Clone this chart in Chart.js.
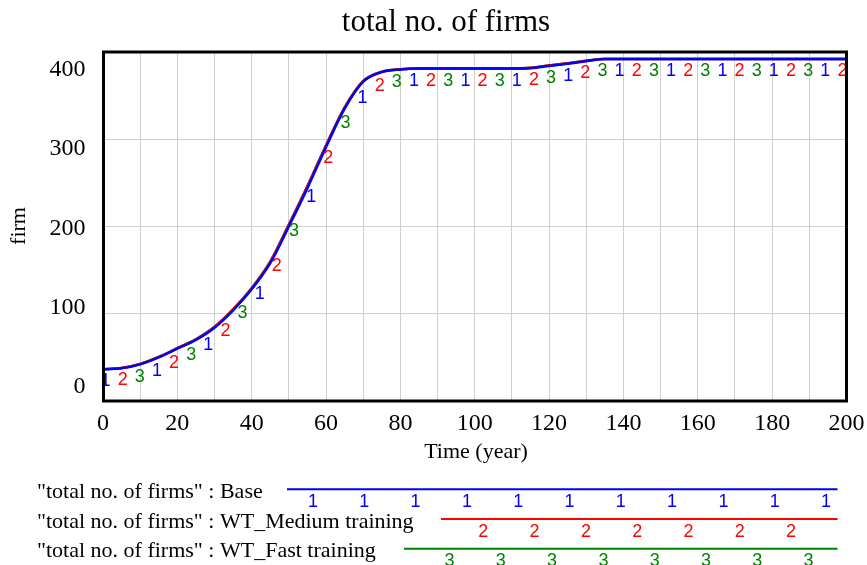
<!DOCTYPE html>
<html><head><meta charset="utf-8">
<script src="https://cdn.jsdelivr.net/npm/chart.js@4.4.1/dist/chart.umd.min.js"></script>
<style>html,body{margin:0;padding:0;background:#fff}#wrap{width:867px;height:565px;position:relative}</style>
</head><body><div id="wrap"><canvas id="c" width="867" height="565"></canvas></div>
<script>
const times = [0,5,10,15,20,25,30,35,40,45,50,55,60,65,70,75,80,85,90,95,100,105,110,115,120,125,130,135,140,145,150,155,160,165,170,175,180,185,190,195,200];
const baseValues = [36.5,37.5,42,50,60,70,84,104,128,158,200,244,291,335,366,377,380,381,381,381,381,381,381,381.5,384,386.5,389.5,392,392,392,392,392,392,392,392,392,392,392,392,392,392];
const mediumValues = [36.5,37.7,42.4,50.5,60.5,70.6,84.8,105,129.2,159.5,202,246,292.8,336.2,366.6,377.3,380.1,381,381,381,381,381,381,381.9,384.5,387,390,392,392,392,392,392,392,392,392,392,392,392,392,392,392];
const fastValues = [36.5,37.7,42.5,50.6,60.6,70.8,85,105.3,129.5,160,202.5,246.5,293.2,336.5,366.8,377.4,380.2,381,381,381,381,381,381,382,384.6,387.1,390.1,392,392,392,392,392,392,392,392,392,392,392,392,392,392];
const xTickLabels = [0,20,40,60,80,100,120,140,160,180,200];
const yTickLabels = [0,100,200,300,400];
const seriesNames = ['"total no. of firms" : Base','"total no. of firms" : WT_Medium training','"total no. of firms" : WT_Fast training'];
const seriesMarks = ['1','2','3'];
const seriesColors = ['#0000ff','#ff0000','#008000'];
const chartTitle = 'total no. of firms';
const xTitle = 'Time (year)';
const yTitle = 'firm';

const seriesValues = [baseValues, mediumValues, fastValues];

function interp(vals, t){
  for(let i=0;i<times.length-1;i++){
    if(t>=times[i] && t<=times[i+1]){
      const f=(t-times[i])/(times[i+1]-times[i]);
      return vals[i]+(vals[i+1]-vals[i])*f;
    }
  }
  return vals[vals.length-1];
}

const SERIF = '"Liberation Serif","Times New Roman",serif';
const SANS = '"Liberation Sans",Arial,sans-serif';

const decor = {
  id:'decor',
  afterDatasetsDraw(chart){
    const ctx=chart.ctx, a=chart.chartArea, xs=chart.scales.x, ys=chart.scales.y;
    ctx.save();
    // plot markers
    ctx.font='18px '+SANS;
    ctx.textAlign='center';
    ctx.textBaseline='alphabetic';
    const step=13.83, off=4.61;
    for(let s=0;s<3;s++){
      ctx.fillStyle=seriesColors[s];
      for(let t=s*off;t<=200.01;t+=step){
        const px=xs.getPixelForValue(t), py=ys.getPixelForValue(interp(seriesValues[s],t));
        ctx.fillText(seriesMarks[s], px+2.5, py+17);
      }
    }
    // border
    ctx.strokeStyle='#000'; ctx.lineWidth=3;
    ctx.strokeRect(a.left+0.5, a.top, a.right-a.left-0.5, a.bottom-a.top);
    // y tick labels
    ctx.fillStyle='#000';
    ctx.font='24px '+SERIF;
    ctx.textAlign='right';
    yTickLabels.forEach(v=>{
      const py=ys.getPixelForValue(200+(v-200)*0.91);
      ctx.fillText(String(v), 85.5, py+8);
    });
    // x tick labels
    ctx.textAlign='center';
    xTickLabels.forEach(v=>{
      ctx.fillText(String(v), xs.getPixelForValue(v), a.bottom+29);
    });
    // title
    ctx.font='31px '+SERIF;
    ctx.fillText(chartTitle, 446, 30.7);
    // x title
    ctx.font='22px '+SERIF;
    ctx.fillText(xTitle, 476, 457.5);
    // y title
    ctx.save();
    ctx.translate(25, 226);
    ctx.rotate(-Math.PI/2);
    ctx.textAlign='center';
    ctx.fillText(yTitle, 0, 0);
    ctx.restore();
    // legend
    const legY=[489.3,519,548.7], legStart=[287,441,404], legEnd=837.5, legBase=[498,528,557], markStart=[313,483.3,449.5], markStep=51.3;
    for(let s=0;s<3;s++){
      ctx.fillStyle='#000';
      ctx.font='22px '+SERIF;
      ctx.textAlign='left';
      ctx.fillText(seriesNames[s], 37, legBase[s]);
      ctx.strokeStyle=seriesColors[s]; ctx.lineWidth=2;
      ctx.beginPath(); ctx.moveTo(legStart[s], legY[s]); ctx.lineTo(legEnd, legY[s]); ctx.stroke();
      ctx.fillStyle=seriesColors[s];
      ctx.font='18px '+SANS;
      ctx.textAlign='center';
      for(let x=markStart[s]; x<=legEnd; x+=markStep){
        ctx.fillText(seriesMarks[s], x, legY[s]+17.5);
      }
    }
    ctx.restore();
  }
};

const mk = (s)=>({
  label: seriesNames[s],
  data: times.map((t,i)=>({x:t,y:seriesValues[s][i]})),
  borderColor: seriesColors[s],
  borderWidth: 2.5,
  pointRadius: 0,
  fill: false,
  cubicInterpolationMode: 'monotone'
});

new Chart(document.getElementById('c'), {
  type:'line',
  data:{ datasets:[mk(0), mk(1), mk(2)] },
  options:{
    responsive:false,
    animation:false,
    devicePixelRatio:1,
    layout:{padding:{left:103, right:20.5, top:52, bottom:164}},
    plugins:{legend:{display:false}, title:{display:false}, tooltip:{enabled:false}},
    scales:{
      x:{type:'linear', min:0, max:200,
         ticks:{display:false, stepSize:10},
         grid:{color:'#d0d0d0', lineWidth:1, drawTicks:false},
         border:{display:false},
         afterFit(s){s.height=0;}},
      y:{type:'linear', min:0, max:400,
         ticks:{display:false, stepSize:100},
         grid:{color:'#d0d0d0', lineWidth:1, drawTicks:false},
         border:{display:false},
         afterFit(s){s.width=0;}}
    }
  },
  plugins:[decor]
});
</script></body></html>
